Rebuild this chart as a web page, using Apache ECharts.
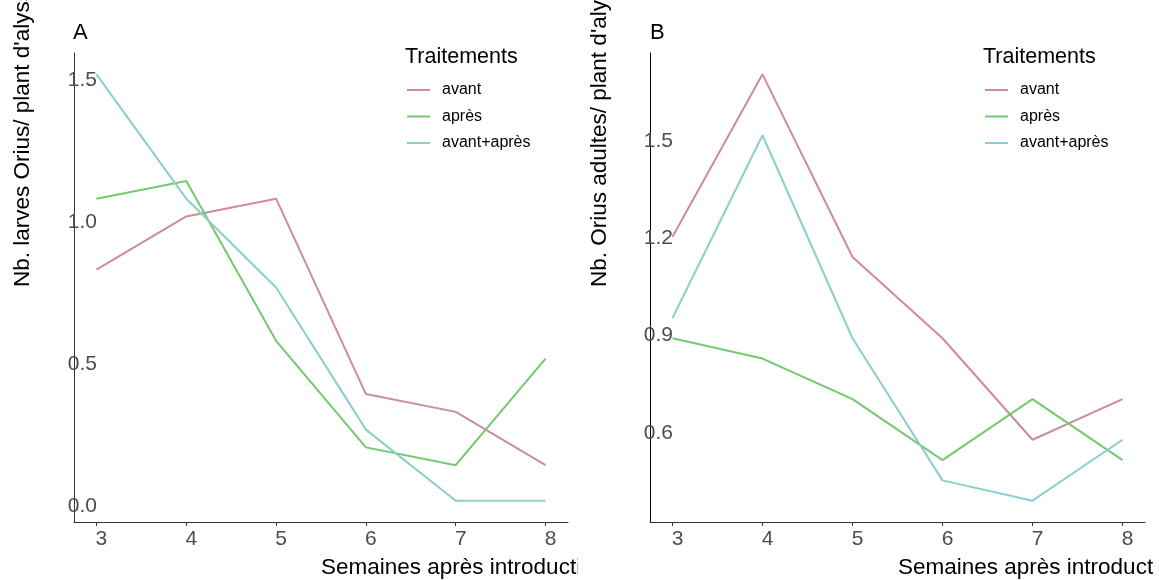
<!DOCTYPE html>
<html>
<head>
<meta charset="utf-8">
<script src="https://cdn.jsdelivr.net/npm/echarts@6/dist/echarts.min.js"></script>
<style>
html,body{margin:0;padding:0;background:#fff;}
#c{width:1159px;height:580px;}
</style>
</head>
<body>
<div id="c"></div>
<script>
const weeks = [3, 4, 5, 6, 7, 8];
const seriesNames = ['avant', 'après', 'avant+après'];
const larvesAvant = [0.8125, 1.0, 1.0625, 0.375, 0.3125, 0.125];
const larvesApres = [1.0625, 1.125, 0.5625, 0.1875, 0.125, 0.5];
const larvesAvantApres = [1.5, 1.0625, 0.75, 0.25, 0.0, 0.0];
const adultesAvant = [1.1875, 1.6875, 1.125, 0.875, 0.5625, 0.6875];
const adultesApres = [0.875, 0.8125, 0.6875, 0.5, 0.6875, 0.5];
const adultesAvantApres = [0.9375, 1.5, 0.875, 0.4375, 0.375, 0.5625];
const xTicks = [3, 4, 5, 6, 7, 8];
const yTicksA = [0.0, 0.5, 1.0, 1.5];
const yTicksB = [0.6, 0.9, 1.2, 1.5];

const colors = ['#CD8C9B', '#74C96F', '#8CCECC'];
const FONT = '"Liberation Sans", Arial, Helvetica, sans-serif';

function expand(arrs) {
  const all = [].concat(...arrs);
  const mn = Math.min(...all), mx = Math.max(...all);
  const pad = (mx - mn) * 0.05;
  return [mn - pad, mx + pad];
}
const xr = [weeks[0] - (weeks[5] - weeks[0]) * 0.05, weeks[5] + (weeks[5] - weeks[0]) * 0.05];
const yrA = expand([larvesAvant, larvesApres, larvesAvantApres]);
const yrB = expand([adultesAvant, adultesApres, adultesAvantApres]);

function pairs(arr) { return weeks.map((w, i) => [w, arr[i]]); }

function xAxis(gi) {
  return {
    type: 'value', gridIndex: gi, min: xr[0], max: xr[1],
    axisLine: { show: true, onZero: false, lineStyle: { color: '#333', width: 1 } },
    axisTick: { show: true, length: 4, lineStyle: { color: '#333' }, customValues: xTicks },
    axisLabel: { customValues: xTicks, color: '#4D4D4D', fontSize: 21, fontFamily: FONT, margin: 7, padding: [0, 0, 0, 10] },
    splitLine: { show: false }
  };
}
function yAxis(gi, r, ticks, lineColor) {
  return {
    type: 'value', gridIndex: gi, min: r[0], max: r[1],
    axisLine: { show: true, onZero: false, lineStyle: { color: lineColor, width: 1 } },
    axisTick: { show: false },
    axisLabel: {
      customValues: ticks, color: '#4D4D4D', fontSize: 21, fontFamily: FONT, margin: -23,
      formatter: v => v.toFixed(1), verticalAlign: 'top', lineHeight: 11
    },
    splitLine: { show: false }
  };
}
function line(name, arr, gi, ci) {
  return {
    type: 'line', name: name, xAxisIndex: gi, yAxisIndex: gi, data: pairs(arr),
    showSymbol: false, symbol: 'none', silent: true, animation: false,
    lineStyle: { color: colors[ci], width: 2 }, itemStyle: { color: colors[ci] }
  };
}
function legend(left) {
  return {
    data: seriesNames, orient: 'vertical', left: left, top: 77,
    icon: 'rect', itemWidth: 23, itemHeight: 2, itemGap: 10.5,
    selectedMode: false,
    textStyle: { fontSize: 16, fontFamily: FONT, color: '#000', padding: [0, 0, 0, 7], lineHeight: 16 }
  };
}
function txt(x, y, text, size, extra) {
  const el = {
    type: 'text', x: x, y: y, silent: true, z: 10,
    style: { text: text, font: size + 'px ' + FONT, fill: '#000', textAlign: 'left', textVerticalAlign: 'middle' }
  };
  if (extra && extra.rotation !== undefined) el.rotation = extra.rotation;
  return el;
}

const chart = echarts.init(document.getElementById('c'), null, { renderer: 'canvas' });
chart.setOption({
  animation: false,
  backgroundColor: '#fff',
  grid: [
    { left: 74, right: 591, top: 53, bottom: 58 },
    { left: 650, right: 14, top: 53, bottom: 58 }
  ],
  xAxis: [xAxis(0), xAxis(1)],
  yAxis: [yAxis(0, yrA, yTicksA, '#333'), yAxis(1, yrB, yTicksB, '#000')],
  legend: [legend(402), legend(980)],
  series: [
    line(seriesNames[0], larvesAvant, 0, 0),
    line(seriesNames[1], larvesApres, 0, 1),
    line(seriesNames[2], larvesAvantApres, 0, 2),
    line(seriesNames[0], adultesAvant, 1, 0),
    line(seriesNames[1], adultesApres, 1, 1),
    line(seriesNames[2], adultesAvantApres, 1, 2)
  ],
  graphic: [
    txt(73, 33, 'A', 22),
    txt(650, 33, 'B', 22),
    txt(405, 57, 'Traitements', 21.5),
    txt(983, 57, 'Traitements', 21.5),
    txt(321, 568, 'Semaines après introduction', 22.5),
    txt(898, 568, 'Semaines après introduction', 22.5),
    txt(23, 287, "Nb. larves Orius/ plant d'alysse", 22.5, { rotation: Math.PI / 2 }),
    txt(600, 287, "Nb. Orius adultes/ plant d'alysse", 22.5, { rotation: Math.PI / 2 }),
    { type: 'rect', silent: true, z: 20, shape: { x: 578, y: 550, width: 60, height: 30 }, style: { fill: '#fff' } },
    { type: 'rect', silent: true, z: 20, shape: { x: 1154, y: 550, width: 10, height: 30 }, style: { fill: '#fff' } }
  ]
});
</script>
</body>
</html>
